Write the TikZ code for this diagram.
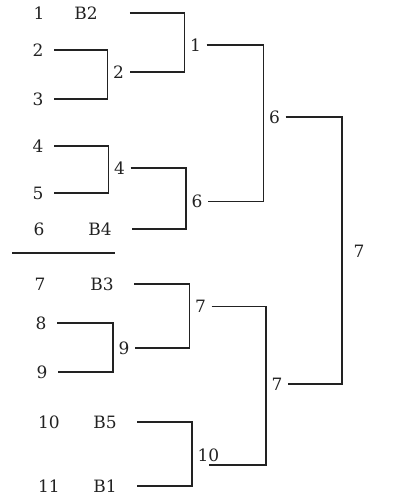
\documentclass[tikz,border=0pt]{standalone}
\usepackage{fontspec}
\setmainfont{DejaVu Serif}
\definecolor{InkGray}{RGB}{34,34,34}
\tikzset{
  entry/.style={inner xsep=10.5pt,inner ysep=0pt,text=InkGray},
  bye/.style={inner xsep=20.5pt,inner ysep=0pt,text=InkGray},
  winner/.style={inner xsep=5.5pt,inner ysep=3.5pt,text=InkGray},
  champion/.style={winner,inner xsep=11.5pt},
  bracket/.style={draw=InkGray,line width=1.6pt},
  divider/.style={draw=InkGray,line width=1.4pt}
}
\begin{document}
\begin{tikzpicture}[x=1pt,y=-1pt,font=\fontsize{17}{20}\selectfont]
  \useasboundingbox (0,0) rectangle (414,499);
  \node[entry] (e1) at (39,13) {1};
  \node[bye,inner xsep=32pt] (b2) at (86,13) {B2};
  \node[entry] (e2) at (38,50) {2};
  \node[entry] (e3) at (38,99) {3};
  \node[entry] (e4) at (38,146) {4};
  \node[entry] (e5) at (38,193) {5};
  \node[entry] (e6) at (39,229) {6};
  \node[bye] (b4) at (100,229) {B4};
  \coordinate (cut west) at (12,253);
  \coordinate (cut east) at (115,253);
  \node[entry] (e7) at (40,284) {7};
  \node[bye] (b3) at (102,284) {B3};
  \node[entry] (e8) at (41,323) {8};
  \node[entry] (e9) at (42,372) {9};
  \node[entry] (e10) at (49,422) {10};
  \node[bye] (b5) at (105,422) {B5};
  \node[entry] (e11) at (49,486) {11};
  \node[bye] (b1) at (105,486) {B1};
  \node[winner] (w2) at (118.5,72) {2};
  \node[winner] (w4) at (119.5,168) {4};
  \node[winner] (w9) at (124,348) {9};
  \node[winner] (w1) at (195.5,45) {1};
  \node[winner] (w6) at (197,201.5) {6};
  \node[winner] (w7) at (200.5,306.5) {7};
  \node[winner] (w10) at (208.5,455) {10};
  \node[winner] (s6) at (274.5,117) {6};
  \node[winner] (s7) at (277,384) {7};
  \node[champion] (champ) at (359,251) {7};
  \draw[divider] (cut west) -- (cut east);
  \draw[bracket] (b2.east) -| (w1.west) |- (w2.east);
  \draw[bracket] (e2.east) -| (w2.west) |- (e3.east);
  \draw[bracket] (e4.east) -| (w4.west) |- (e5.east);
  \draw[bracket] (w4.east) -| (w6.west) |- (b4.east);
  \draw[bracket] (w1.east) -| (s6.west) |- (w6.east);
  \draw[bracket] (b3.east) -| (w7.west) |- (w9.east);
  \draw[bracket] (e8.east) -| (w9.west) |- (e9.east);
  \draw[bracket] (b5.east) -| (w10.west) |- (b1.east);
  \draw[bracket] (w7.east) -| (s7.west) |- (w10.south);
  \draw[bracket] (s6.east) -| (champ.west) |- (s7.east);
\end{tikzpicture}
\end{document}
